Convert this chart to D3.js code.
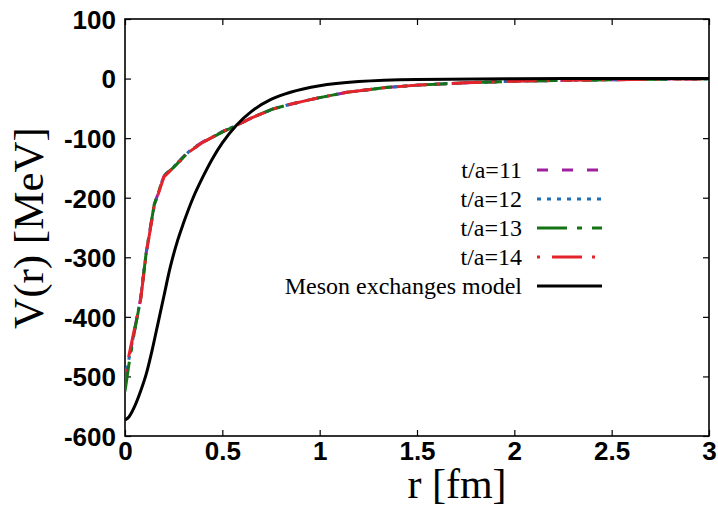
<!DOCTYPE html>
<html lang="en">
<head>
    <meta charset="UTF-8">
    <title>V(r)</title>
    <script src="https://d3js.org/d3.v7.min.js"></script>
    <style>
        body { margin: 0; background: #fff; }
    </style>
</head>
<body>
    <script>
        // lattice r grid [fm] and potentials [MeV] for each t/a
        const rLat = [0, 0.02, 0.05, 0.08, 0.11, 0.15, 0.2, 0.25, 0.33, 0.4, 0.5, 0.57, 0.65,
                      0.76, 0.85, 0.93, 1.0, 1.14, 1.34, 1.5, 1.75, 2.0, 2.25, 2.5, 2.75, 3.0];
        const vT11 = [-502, -472, -420, -370, -290, -212, -164, -148, -121, -106, -89, -79, -66,
                      -51, -43, -37, -32, -23, -15, -11, -7, -4.5, -3, -2, -1, -0.5];
        const vT12 = [-505, -471, -421, -369, -291, -213, -163, -148, -122, -107, -89, -79, -66,
                      -51, -43, -37, -32, -23, -15, -11, -7, -4.5, -3, -2, -1, -0.5];
        const vT13 = [-525, -480, -422, -371, -289, -212, -163, -149, -122, -107, -90, -79, -66,
                      -51, -43, -37, -32, -23, -15, -11, -7, -4.5, -3, -2, -1, -0.5];
        const vT14 = [-492, -465, -418, -372, -292, -214, -165, -149, -123, -107, -89, -79, -66,
                      -51, -43, -37, -32, -23, -15, -11, -7, -4.5, -3, -2, -1, -0.5];

        // meson exchanges model
        const rMes = [0, 0.02, 0.05, 0.08, 0.11, 0.14, 0.17, 0.2, 0.23, 0.27, 0.3, 0.35, 0.4,
                      0.45, 0.5, 0.57, 0.65, 0.75, 0.85, 1.0, 1.2, 1.5, 2.0, 2.5, 3.0];
        const vMes = [-573, -568, -550, -525, -495, -455, -410, -365, -320, -272, -243, -200, -165,
                      -134, -108, -79, -55, -35, -23, -12, -5, -1.5, -0.3, 0, 0];

        const xTicks = [0, 0.5, 1, 1.5, 2, 2.5, 3];
        const yTicks = [100, 0, -100, -200, -300, -400, -500, -600];

        const w = 718, h = 508;
        const pLeft = 125, pRight = 709, pTop = 19, pBottom = 436;

        const xScale = d3.scaleLinear().domain([0, 3]).range([pLeft, pRight]);
        const yScale = d3.scaleLinear().domain([-600, 100]).range([pBottom, pTop]);

        const svg = d3.select("body").append("svg")
                      .attr("width", w).attr("height", h);

        svg.append("defs").append("clipPath").attr("id", "clip")
           .append("rect").attr("x", pLeft).attr("y", pTop)
           .attr("width", pRight - pLeft).attr("height", pBottom - pTop);

        // axes, ticks inward and mirrored
        const axFont = 26;
        const gx = svg.append("g").attr("transform", "translate(0," + pBottom + ")")
           .call(d3.axisBottom(xScale).tickValues(xTicks).tickSize(-6).tickPadding(6)
                 .tickFormat(d => String(d)));
        const gy = svg.append("g").attr("transform", "translate(" + pLeft + ",0)")
           .call(d3.axisLeft(yScale).tickValues(yTicks).tickSize(-6).tickPadding(9)
                 .tickFormat(d => String(d)));
        [gx, gy].forEach(g => g.selectAll("text")
            .attr("font-family", "Liberation Sans, Arial, sans-serif")
            .attr("font-weight", "bold").attr("font-size", axFont).attr("fill", "#000"));
        gy.selectAll("text").attr("dy", "0.36em");
        svg.append("g").attr("transform", "translate(0," + pTop + ")")
           .call(d3.axisTop(xScale).tickValues(xTicks).tickSize(-6).tickFormat(""));
        svg.append("g").attr("transform", "translate(" + pRight + ",0)")
           .call(d3.axisRight(yScale).tickValues(yTicks).tickSize(-6).tickFormat(""));
        svg.selectAll(".domain").remove();
        svg.selectAll(".tick line").attr("stroke", "#000").attr("stroke-width", 1.2);

        svg.append("rect").attr("x", pLeft).attr("y", pTop)
           .attr("width", pRight - pLeft).attr("height", pBottom - pTop)
           .attr("fill", "none").attr("stroke", "#000").attr("stroke-width", 1.6);

        // series
        const series = [
            { label: "t/a=11", r: rLat, v: vT11, color: "#a0209f", dash: "11,14" },
            { label: "t/a=12", r: rLat, v: vT12, color: "#1f6fb8", dash: "4,6" },
            { label: "t/a=13", r: rLat, v: vT13, color: "#147314", dash: "30,10,5,10" },
            { label: "t/a=14", r: rLat, v: vT14, color: "#e4242a", dash: "3,12,30,10" },
            { label: "Meson exchanges model", r: rMes, v: vMes, color: "#000", dash: null }
        ];

        const line = d3.line().x(d => xScale(d[0])).y(d => yScale(d[1]));
        const plot = svg.append("g").attr("clip-path", "url(#clip)");

        series.forEach(s => {
            const pts = s.r.map((r, i) => [r, s.v[i]]);
            plot.append("path").datum(pts)
                .attr("d", s.dash ? line.curve(d3.curveLinear)(pts) : line.curve(d3.curveMonotoneX)(pts))
                .attr("fill", "none").attr("stroke", s.color).attr("stroke-width", 3)
                .attr("stroke-dasharray", s.dash);
        });

        // legend
        const leg = svg.append("g");
        series.forEach((s, i) => {
            const y = 170 + i * 29;
            leg.append("text").attr("x", 522).attr("y", y).attr("dy", "0.35em")
               .attr("text-anchor", "end").attr("font-family", "Liberation Serif, serif")
               .attr("font-size", 24).text(s.label);
            leg.append("line").attr("x1", 537).attr("x2", 602).attr("y1", y).attr("y2", y)
               .attr("stroke", s.color).attr("stroke-width", 3)
               .attr("stroke-dasharray", s.dash);
        });

        // axis titles
        svg.append("text").attr("x", 457).attr("y", 498).attr("text-anchor", "middle")
           .attr("font-family", "Liberation Serif, serif").attr("font-size", 42).text("r [fm]");
        svg.append("text").attr("transform", "translate(43,228) rotate(-90)")
           .attr("text-anchor", "middle")
           .attr("font-family", "Liberation Serif, serif").attr("font-size", 43).text("V(r) [MeV]");
    </script>
</body>
</html>
